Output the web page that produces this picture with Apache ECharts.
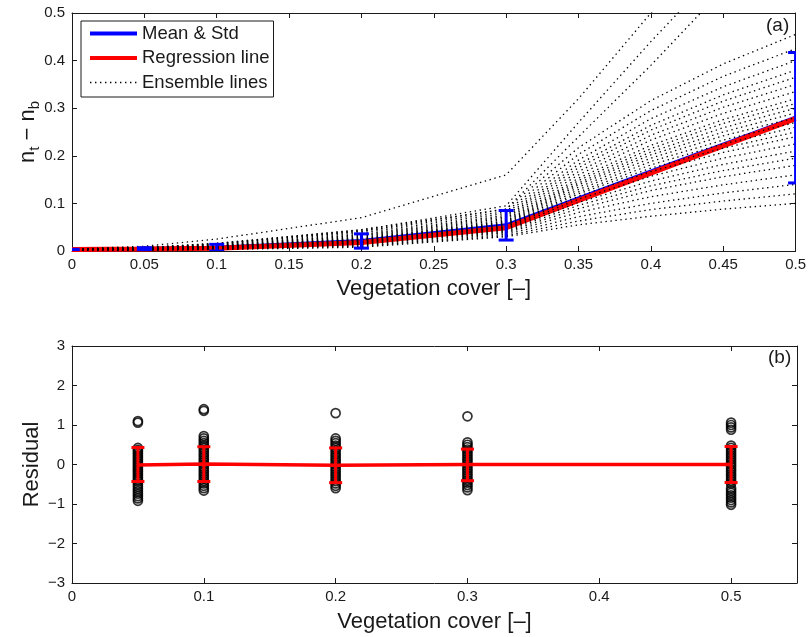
<!DOCTYPE html>
<html>
<head>
<meta charset="utf-8">
<script src="https://cdn.jsdelivr.net/npm/echarts@6/dist/echarts.min.js"></script>
<style>
  html, body { margin: 0; padding: 0; background: #fff; }
  #chart { width: 809px; height: 637px; }
</style>
</head>
<body>
<div id="chart"></div>
<script>
const FONT = '"Liberation Sans", Arial, Helvetica, sans-serif';
const INK = '#1a1a1a';

// ---- Panel (a): n_t - n_b against vegetation cover ----
const vegCover       = [0, 0.05, 0.1, 0.2, 0.3, 0.5];
const meanVals       = [0.003, 0.004, 0.007, 0.021, 0.054, 0.280];
const stdVals        = [0.0005, 0.003, 0.007, 0.015, 0.031, 0.137];
const regressionVals = [0.003, 0.004, 0.006, 0.018, 0.049, 0.278];

// ensemble members, sampled at these cover values
const ensembleX = [0, 0.05, 0.1, 0.2, 0.3, 0.35, 0.4, 0.45, 0.5];
const ensembleLines = [
  [0.002, 0.002, 0.003, 0.008, 0.030, 0.055, 0.073, 0.088, 0.100],
  [0.002, 0.002, 0.004, 0.010, 0.032, 0.063, 0.087, 0.105, 0.120],
  [0.003, 0.002, 0.004, 0.011, 0.035, 0.072, 0.100, 0.122, 0.140],
  [0.003, 0.002, 0.005, 0.013, 0.038, 0.081, 0.114, 0.139, 0.160],
  [0.003, 0.003, 0.005, 0.014, 0.040, 0.089, 0.127, 0.156, 0.180],
  [0.003, 0.003, 0.006, 0.016, 0.042, 0.096, 0.137, 0.169, 0.195],
  [0.003, 0.003, 0.006, 0.017, 0.044, 0.102, 0.147, 0.182, 0.210],
  [0.003, 0.003, 0.007, 0.018, 0.046, 0.109, 0.157, 0.195, 0.225],
  [0.003, 0.003, 0.007, 0.019, 0.048, 0.115, 0.167, 0.207, 0.240],
  [0.003, 0.004, 0.008, 0.020, 0.050, 0.120, 0.174, 0.216, 0.250],
  [0.003, 0.004, 0.008, 0.021, 0.051, 0.124, 0.181, 0.225, 0.260],
  [0.003, 0.004, 0.008, 0.022, 0.053, 0.129, 0.188, 0.233, 0.270],
  [0.003, 0.004, 0.009, 0.023, 0.055, 0.134, 0.195, 0.242, 0.280],
  [0.003, 0.004, 0.009, 0.024, 0.057, 0.139, 0.202, 0.250, 0.290],
  [0.003, 0.004, 0.010, 0.025, 0.059, 0.143, 0.208, 0.259, 0.300],
  [0.003, 0.005, 0.010, 0.026, 0.061, 0.148, 0.215, 0.268, 0.310],
  [0.004, 0.005, 0.011, 0.027, 0.063, 0.153, 0.222, 0.276, 0.320],
  [0.004, 0.005, 0.011, 0.029, 0.066, 0.160, 0.233, 0.289, 0.335],
  [0.004, 0.005, 0.012, 0.031, 0.069, 0.167, 0.243, 0.302, 0.350],
  [0.004, 0.005, 0.012, 0.033, 0.072, 0.175, 0.254, 0.315, 0.365],
  [0.004, 0.006, 0.013, 0.035, 0.075, 0.182, 0.264, 0.328, 0.380],
  [0.004, 0.006, 0.014, 0.038, 0.079, 0.191, 0.278, 0.345, 0.400],
  [0.004, 0.007, 0.015, 0.041, 0.083, 0.203, 0.295, 0.367, 0.425],
  [0.004, 0.007, 0.016, 0.045, 0.088, 0.217, 0.316, 0.393, 0.455],
  [0.004, 0.010, 0.025, 0.070, 0.160, 0.320, 0.500, 0.660, 0.800],
  [0.004, 0.007, 0.016, 0.044, 0.095, 0.270, 0.440, 0.600, 0.750],
  [0.004, 0.007, 0.015, 0.042, 0.088, 0.240, 0.390, 0.550, 0.700]
];

// ---- Panel (b): residuals ----
const residCover = [0.05, 0.1, 0.2, 0.3, 0.5];
const resid005 = [1.10, 1.06, 0.42, 0.37, 0.32, 0.27, 0.22, 0.17, 0.12, 0.07, 0.02, -0.03, -0.08, -0.13,
                  -0.18, -0.23, -0.28, -0.33, -0.38, -0.43, -0.50, -0.56, -0.62, -0.68, -0.74, -0.80, -0.86, -0.92];
const resid010 = [1.40, 1.36, 0.72, 0.66, 0.60, 0.54, 0.48, 0.42, 0.36, 0.30, 0.24, 0.18, 0.12, 0.06, 0.00,
                  -0.06, -0.12, -0.18, -0.24, -0.30, -0.36, -0.42, -0.48, -0.54, -0.60, -0.66];
const resid020 = [1.30, 0.66, 0.60, 0.54, 0.48, 0.42, 0.36, 0.30, 0.24, 0.18, 0.12, 0.06, 0.00,
                  -0.06, -0.12, -0.18, -0.24, -0.30, -0.36, -0.42, -0.48, -0.54, -0.60];
const resid030 = [1.22, 0.56, 0.50, 0.44, 0.38, 0.32, 0.26, 0.20, 0.14, 0.08, 0.02, -0.04, -0.10,
                  -0.16, -0.22, -0.28, -0.34, -0.40, -0.46, -0.52, -0.58, -0.65];
const resid050 = [1.06, 1.00, 0.94, 0.88, 0.48, 0.42, 0.36, 0.30, 0.24, 0.18, 0.12, 0.06, 0.00, -0.06,
                  -0.12, -0.18, -0.24, -0.30, -0.36, -0.42, -0.48, -0.60, -0.66, -0.72, -0.78, -0.84, -0.90, -0.96, -1.02];
const residGroups = [resid005, resid010, resid020, resid030, resid050];
const residMean = [-0.01, 0.01, -0.02, 0.00, 0.00];
const residLow  = [-0.43, -0.43, -0.46, -0.41, -0.455];
const residHigh = [0.43, 0.45, 0.42, 0.39, 0.455];

// ---- helpers ----
function errorBars(xIdx, yIdx, data, color, capHalf, width, z) {
  return {
    type: 'custom', xAxisIndex: xIdx, yAxisIndex: yIdx, z: z, silent: true, clip: true,
    encode: { x: 0, y: [1, 2] },
    data: data,
    renderItem: function (params, api) {
      const x = api.value(0);
      const hi = api.coord([x, api.value(2)]);
      const lo = api.coord([x, api.value(1)]);
      const style = { stroke: color, lineWidth: width, fill: null };
      return {
        type: 'group',
        children: [
          { type: 'line', shape: { x1: hi[0], y1: hi[1], x2: lo[0], y2: lo[1] }, style: style },
          { type: 'line', shape: { x1: hi[0] - capHalf, y1: hi[1], x2: hi[0] + capHalf, y2: hi[1] }, style: style },
          { type: 'line', shape: { x1: lo[0] - capHalf, y1: lo[1], x2: lo[0] + capHalf, y2: lo[1] }, style: style }
        ]
      };
    }
  };
}

const lineCommon = {
  axisLine: { show: true, onZero: false, lineStyle: { color: INK, width: 1 } },
  axisTick: { show: true, inside: true, length: 5, lineStyle: { color: INK, width: 1 } },
  splitLine: { show: false },
  axisLabel: { fontFamily: FONT, fontSize: 15, color: INK, margin: 6 }
};
const mirror = {
  axisLine: { show: true, onZero: false, lineStyle: { color: INK, width: 1 } },
  axisTick: { show: true, inside: true, length: 5, lineStyle: { color: INK, width: 1 } },
  splitLine: { show: false },
  axisLabel: { show: false }
};
const nameStyle = { fontFamily: FONT, fontSize: 22, color: INK };

const grids = [
  { left: 72, right: 12, top: 13, height: 238 },
  { left: 72, right: 12, top: 346, height: 237 }
];

const xAxes = [
  Object.assign({}, lineCommon, {
    type: 'value', gridIndex: 0, position: 'bottom', min: 0, max: 0.5, interval: 0.05,
    name: 'Vegetation cover [–]', nameLocation: 'middle', nameGap: 27, nameTextStyle: nameStyle
  }),
  Object.assign({}, mirror, { type: 'value', gridIndex: 0, position: 'top', min: 0, max: 0.5, interval: 0.05 }),
  Object.assign({}, lineCommon, {
    type: 'value', gridIndex: 1, position: 'bottom', min: 0, max: 0.55, interval: 0.1,
    axisLabel: Object.assign({}, lineCommon.axisLabel, {
      showMaxLabel: false,
      formatter: function (v) { return v > 0.5001 ? '' : String(+v.toFixed(2)); }
    }),
    name: 'Vegetation cover [–]', nameLocation: 'middle', nameGap: 28, nameTextStyle: nameStyle
  }),
  Object.assign({}, mirror, { type: 'value', gridIndex: 1, position: 'top', min: 0, max: 0.55, interval: 0.1 })
];

const yAxes = [
  Object.assign({}, lineCommon, {
    type: 'value', gridIndex: 0, position: 'left', min: 0, max: 0.5, interval: 0.1,
    axisLabel: Object.assign({}, lineCommon.axisLabel, { margin: 7 }),
    name: '{m|n}{s|t}{m| − n}{s|b}', nameLocation: 'middle', nameGap: 33, nameMoveOverlap: false,
    nameTextStyle: {
      fontFamily: FONT, fontSize: 22, color: INK,
      rich: {
        m: { fontFamily: FONT, fontSize: 22, lineHeight: 22, color: INK },
        s: { fontFamily: FONT, fontSize: 15, lineHeight: 15, color: INK, padding: [14, 0, 0, 0] }
      }
    }
  }),
  Object.assign({}, mirror, { type: 'value', gridIndex: 0, position: 'right', min: 0, max: 0.5, interval: 0.1 }),
  Object.assign({}, lineCommon, {
    type: 'value', gridIndex: 1, position: 'left', min: -3, max: 3, interval: 1,
    axisLabel: Object.assign({}, lineCommon.axisLabel, {
      margin: 7,
      formatter: function (v) { return String(v).replace('-', '\u2212'); }
    }),
    name: 'Residual', nameLocation: 'middle', nameGap: 29, nameMoveOverlap: false, nameTextStyle: nameStyle
  }),
  Object.assign({}, mirror, { type: 'value', gridIndex: 1, position: 'right', min: -3, max: 3, interval: 1 })
];

const series = [];

// mean curve with its spread
series.push({
  type: 'line', name: 'Mean & Std', xAxisIndex: 0, yAxisIndex: 0, z: 2,
  showSymbol: false, symbol: 'none', silent: true,
  lineStyle: { color: '#0000ff', width: 4 },
  itemStyle: { color: '#0000ff' },
  data: vegCover.map(function (x, i) { return [x, meanVals[i]]; })
});
series.push({
  type: 'line', name: 'Regression line', xAxisIndex: 0, yAxisIndex: 0, z: 3,
  showSymbol: false, symbol: 'none', silent: true,
  lineStyle: { color: '#ff0000', width: 5 },
  itemStyle: { color: '#ff0000' },
  data: vegCover.map(function (x, i) { return [x, regressionVals[i]]; })
});
ensembleLines.forEach(function (vals) {
  series.push({
    type: 'line', name: 'Ensemble lines', xAxisIndex: 0, yAxisIndex: 0, z: 4,
    showSymbol: false, symbol: 'none', silent: true, clip: true,
    lineStyle: { color: '#000', width: 1.3, type: [1.4, 3.6] },
    itemStyle: { color: '#000' },
    data: ensembleX.map(function (x, i) { return [x, vals[i]]; })
  });
});
series.push(errorBars(0, 0,
  vegCover.map(function (x, i) { return [x, meanVals[i] - stdVals[i], meanVals[i] + stdVals[i]]; }),
  '#0000ff', 7.5, 3, 5));

// residual scatter
residGroups.forEach(function (vals, g) {
  series.push({
    type: 'scatter', name: 'Residuals', xAxisIndex: 2, yAxisIndex: 2, z: 3, silent: true,
    symbol: 'circle', symbolSize: 9,
    itemStyle: { color: 'rgba(0,0,0,0)', borderColor: '#000', borderWidth: 1.7 },
    data: vals.map(function (v) { return [residCover[g], v]; })
  });
});
series.push({
  type: 'line', name: 'Residual mean', xAxisIndex: 2, yAxisIndex: 2, z: 5,
  showSymbol: false, symbol: 'none', silent: true,
  lineStyle: { color: '#ff0000', width: 3.5 },
  data: residCover.map(function (x, i) { return [x, residMean[i]]; })
});
series.push(errorBars(2, 2,
  residCover.map(function (x, i) { return [x, residLow[i], residHigh[i]]; }),
  '#ff0000', 6.5, 3, 6));

const chart = echarts.init(document.getElementById('chart'), null, { renderer: 'canvas' });
chart.setOption({
  animation: false,
  backgroundColor: '#fff',
  textStyle: { fontFamily: FONT },
  grid: grids,
  xAxis: xAxes,
  yAxis: yAxes,
  legend: {
    data: [
      { name: 'Mean & Std', lineStyle: { width: 4, color: '#0000ff' } },
      { name: 'Regression line', lineStyle: { width: 4, color: '#ff0000' } },
      { name: 'Ensemble lines', lineStyle: { width: 1.3, color: '#000', type: [1.4, 3.6] } }
    ],
    orient: 'vertical', left: 81, top: 21,
    itemWidth: 47, itemHeight: 14, itemGap: 5.5,
    padding: [3, 4, 5, 7],
    borderColor: INK, borderWidth: 1, backgroundColor: '#fff',
    selectedMode: false,
    itemStyle: { opacity: 0 },
    textStyle: { fontFamily: FONT, fontSize: 18.5, color: INK, lineHeight: 18 },
    z: 10
  },
  graphic: [
    { type: 'text', left: 766, top: 16, z: 20, style: { text: '(a)', font: '19px ' + FONT, fill: INK } },
    { type: 'text', left: 768, top: 348, z: 20, style: { text: '(b)', font: '19px ' + FONT, fill: INK } }
  ],
  series: series
});
</script>
</body>
</html>
